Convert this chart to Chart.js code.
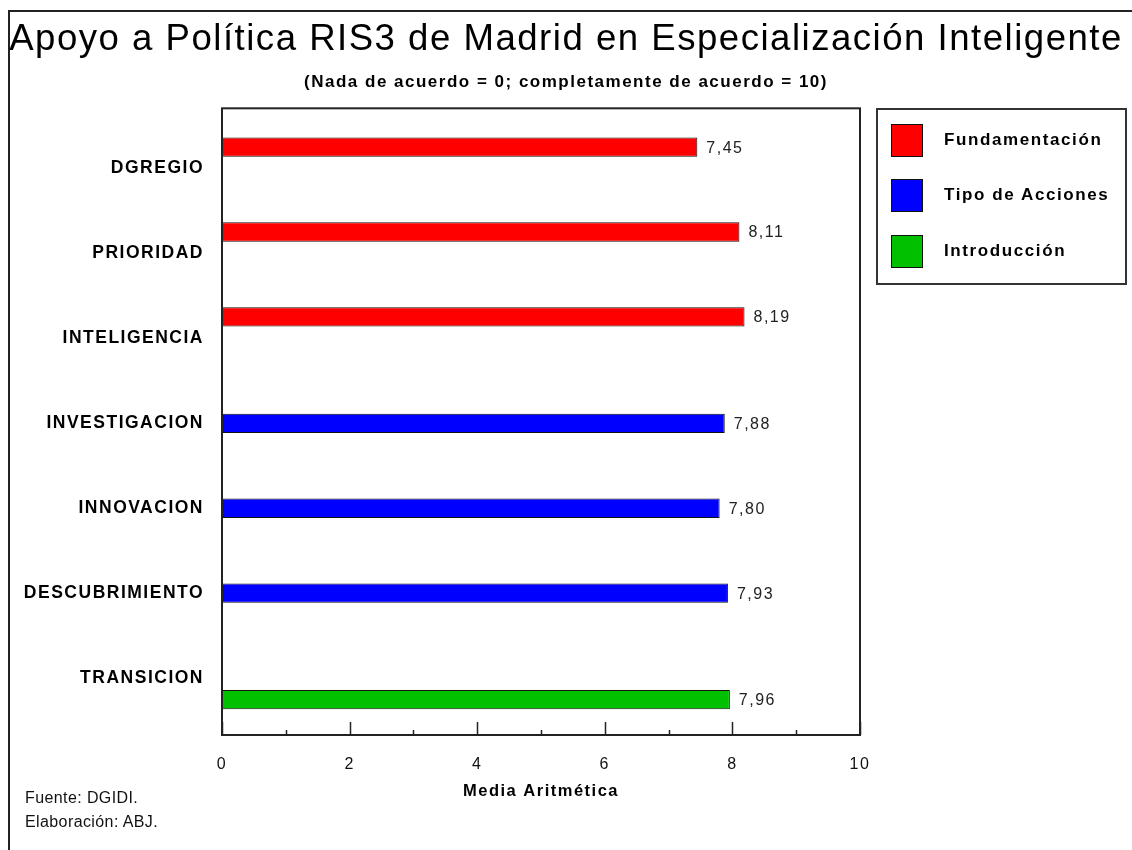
<!DOCTYPE html>
<html>
<head>
<meta charset="utf-8">
<script src="https://cdn.jsdelivr.net/npm/chart.js@4.4.0/dist/chart.umd.min.js"></script>
<style>
  body { margin: 0; background: #fff; }
  #wrap { position: relative; width: 1132px; height: 850px; overflow: hidden; font-family: "Liberation Sans", Arial, sans-serif; }
  #frame { position: absolute; left: 8px; top: 10px; width: 1200px; height: 900px; border-top: 2px solid #222; border-left: 2px solid #222; }
  canvas { position: absolute; left: 0; top: 0; }
  #legend { position: absolute; left: 876px; top: 108px; width: 247px; height: 173px; border: 2px solid #333; }
  .item { position: absolute; left: 13px; height: 32px; }
  .swatch { position: absolute; left: 0; top: 0; width: 30px; height: 31px; border: 1px solid #111; }
  .label { position: absolute; left: 53px; top: 6px; white-space: nowrap; font-weight: bold; font-size: 17px; letter-spacing: 1.6px; color: #000; }
  #footer { position: absolute; left: 25px; top: 786px; font-size: 16px; line-height: 24px; letter-spacing: 0.4px; color: #111; }
</style>
</head>
<body>
<div id="wrap">
  <div id="frame"></div>
  <canvas id="myChart" width="1132" height="850"></canvas>
  <div id="legend"></div>
  <div id="footer">Fuente: DGIDI.<br>Elaboración: ABJ.</div>
</div>
<script>
const categories = ['DGREGIO', 'PRIORIDAD', 'INTELIGENCIA', 'INVESTIGACION', 'INNOVACION', 'DESCUBRIMIENTO', 'TRANSICION'];
const seriesNames = ['Fundamentación', 'Tipo de Acciones', 'Introducción'];
const seriesColors = ['#ff0000', '#0000ff', '#00c000'];
const fundamentacion = [7.45, 8.11, 8.19, null, null, null, null];
const tipoAcciones = [null, null, null, 7.88, 7.80, 7.93, null];
const introduccion = [null, null, null, null, null, null, 7.96];
const xTicks = [0, 2, 4, 6, 8, 10];

const font = '"Liberation Sans", Arial, sans-serif';

function toPoints(values) {
  return values.map((v, i) => ({ y: i, x: v }));
}

function makeDataset(i, values) {
  return {
    label: seriesNames[i],
    data: toPoints(values),
    yAxisID: 'y',
    xAxisID: 'x',
    backgroundColor: seriesColors[i],
    borderColor: '#111',
    borderWidth: 1,
    borderSkipped: false,
    categoryPercentage: 0.76,
    barPercentage: 0.9
  };
}

// frame round the plot + inward tick marks + value labels
const plotExtras = {
  id: 'plotExtras',
  beforeDraw(chart) {
    chart.ctx.letterSpacing = '1.5px';
  },
  afterDatasetsDraw(chart) {
    const ctx = chart.ctx;
    const area = chart.chartArea;
    ctx.save();
    ctx.font = '16px ' + font;
    ctx.fillStyle = '#222';
    ctx.textBaseline = 'middle';
    ctx.textAlign = 'left';
    chart.data.datasets.forEach((ds, di) => {
      const meta = chart.getDatasetMeta(di);
      meta.data.forEach((bar, i) => {
        const v = ds.data[i].x;
        if (v === null) return;
        ctx.fillText(v.toFixed(2).replace('.', ','), bar.x + 9, bar.y + 1);
      });
    });
    ctx.strokeStyle = '#222';
    ctx.lineWidth = 2;
    ctx.strokeRect(area.left, area.top, area.right - area.left, area.bottom - area.top);
    const xs = chart.scales.x;
    ctx.lineWidth = 1.5;
    xs.ticks.forEach(t => {
      const px = Math.round(xs.getPixelForValue(t.value)) + 0.5;
      const len = t.value % 2 === 0 ? 13 : 5;
      ctx.beginPath();
      ctx.moveTo(px, area.bottom);
      ctx.lineTo(px, area.bottom - len);
      ctx.stroke();
    });
    ctx.restore();
  }
};

const ctx = document.getElementById('myChart');
const myChart = new Chart(ctx, {
  type: 'bar',
  data: {
    datasets: [
      makeDataset(0, fundamentacion),
      makeDataset(1, tipoAcciones),
      makeDataset(2, introduccion)
    ]
  },
  options: {
    indexAxis: 'y',
    responsive: false,
    animation: false,
    devicePixelRatio: 1,
    layout: { padding: 0 },
    plugins: {
      legend: { display: false },
      tooltip: { enabled: false },
      title: {
        display: true,
        text: 'Apoyo a Política RIS3 de Madrid en Especialización Inteligente',
        color: '#000',
        font: { family: font, size: 36.6, weight: 'normal', lineHeight: 1.2 },
        padding: { top: 18, bottom: 0 }
      },
      subtitle: {
        display: true,
        text: '(Nada de acuerdo = 0; completamente de acuerdo = 10)',
        color: '#000',
        font: { family: font, size: 17, weight: 'bold', lineHeight: 1.2 },
        padding: { top: 10, bottom: 16 }
      }
    },
    scales: {
      x: {
        type: 'linear',
        min: 0,
        max: 10,
        grid: { display: false, drawTicks: false },
        border: { display: false },
        ticks: {
          stepSize: 1,
          autoSkip: false,
          maxRotation: 0,
          padding: 20,
          color: '#111',
          font: { family: font, size: 16 },
          callback: v => xTicks.includes(v) ? String(v) : ''
        },
        title: {
          display: true,
          text: 'Media Aritmética',
          color: '#000',
          font: { family: font, size: 16.5, weight: 'bold' },
          padding: { top: 0, bottom: 49 }
        },
        afterFit: scale => { scale.height = 115; }
      },
      y: {
        type: 'linear',
        reverse: true,
        offset: false,
        min: -0.71,
        max: 6.67,
        grid: { display: false, drawTicks: false },
        border: { display: false },
        ticks: {
          stepSize: 1,
          includeBounds: false,
          autoSkip: false,
          padding: 18,
          color: '#000',
          font: { family: font, size: 17.5, weight: 'bold' },
          callback: v => categories[v] ?? ''
        },
        afterFit: scale => { scale.width = 222; }
      },
      // empty right-hand axis, only keeps room for the legend box
      yRight: {
        axis: 'y',
        type: 'linear',
        position: 'right',
        grid: { display: false, drawTicks: false },
        border: { display: false },
        ticks: { display: false },
        afterFit: scale => { scale.width = 272; }
      }
    }
  },
  plugins: [plotExtras]
});

// legend built from the same series arrays
const legendBox = document.getElementById('legend');
const rowTops = [14, 69, 125];
seriesNames.forEach((name, i) => {
  const item = document.createElement('div');
  item.className = 'item';
  item.style.top = rowTops[i] + 'px';
  item.innerHTML = `<div class="swatch" style="background:${seriesColors[i]}"></div><div class="label">${name}</div>`;
  legendBox.appendChild(item);
});
</script>
</body>
</html>
